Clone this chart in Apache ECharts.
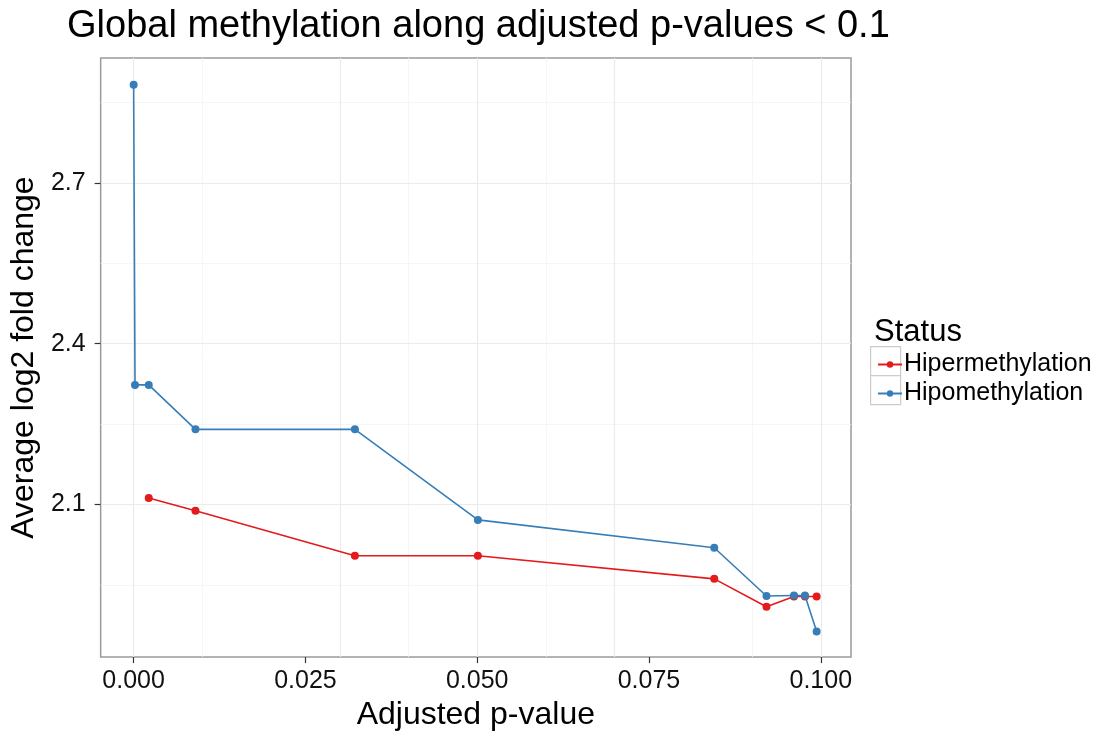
<!DOCTYPE html>
<html>
<head>
<meta charset="utf-8">
<script src="https://cdn.jsdelivr.net/npm/echarts@6/dist/echarts.min.js"></script>
<style>html,body{margin:0;padding:0;background:#fff}#c{width:1097px;height:736px}</style>
</head>
<body>
<div id="c"></div>
<script>
// Data
const hyperP  = [0.0022, 0.0090, 0.0322, 0.0501, 0.0845, 0.0921, 0.0961, 0.0977, 0.0994];
const hyperFC = [2.112, 2.088, 2.004, 2.004, 1.961, 1.909, 1.928, 1.928, 1.928];
const hypoP   = [0.0000, 0.0002, 0.0022, 0.0090, 0.0322, 0.0501, 0.0845, 0.0921, 0.0961, 0.0977, 0.0994];
const hypoFC  = [2.883, 2.323, 2.323, 2.240, 2.240, 2.071, 2.019, 1.929, 1.930, 1.930, 1.863];
const seriesNames = ['Hipermethylation', 'Hipomethylation'];
const xTicks = [0, 0.025, 0.05, 0.075, 0.1];
const xMinor = [0.0125, 0.0375, 0.0625, 0.0875];
const yTicks = [2.1, 2.4, 2.7];
const yMinor = [1.95, 2.25, 2.55, 2.85];

const FONT = '"Liberation Sans", Arial, Helvetica, sans-serif';
const chart = echarts.init(document.getElementById('c'), null, {renderer: 'canvas'});

const major = {color: '#ebebeb', width: 1.2, type: 'solid'};
const minor = {color: '#f4f4f4', width: 0.8, type: 'solid'};
const gridLines = [].concat(
  xMinor.map(v => ({xAxis: v, lineStyle: minor})),
  yMinor.map(v => ({yAxis: v, lineStyle: minor})),
  xTicks.map(v => ({xAxis: v, lineStyle: major})),
  yTicks.map(v => ({yAxis: v, lineStyle: major}))
);

chart.setOption({
  animation: false,
  backgroundColor: '#ffffff',
  textStyle: {fontFamily: FONT},
  title: [
    {text: 'Global methylation along adjusted p-values < 0.1', left: 62, top: 3,
     textStyle: {fontFamily: FONT, fontSize: 38, fontWeight: 'normal', color: '#000'}},
    {text: 'Status', left: 869, top: 312,
     textStyle: {fontFamily: FONT, fontSize: 31, fontWeight: 'normal', color: '#000'}}
  ],
  grid: {left: 100, right: 246, top: 58, bottom: 76, show: true,
         borderColor: '#9a9a9a', borderWidth: 1.5, backgroundColor: 'transparent'},
  legend: {
    data: seriesNames, orient: 'vertical', left: 872, top: 347, itemWidth: 24, itemHeight: 8,
    itemGap: 4, textStyle: {fontFamily: FONT, fontSize: 25, color: '#000', padding: [0,0,0,-3], lineHeight: 25}
  },
  graphic: [
    {type: 'rect', left: 870, top: 346, shape: {width: 30, height: 29}, z: -1,
     style: {fill: '#ffffff', stroke: '#cccccc', lineWidth: 1.2}},
    {type: 'rect', left: 870, top: 375, shape: {width: 30, height: 29}, z: -1,
     style: {fill: '#ffffff', stroke: '#cccccc', lineWidth: 1.2}}
  ],
  xAxis: {
    type: 'value', min: -0.0048, max: 0.1044,
    name: 'Adjusted p-value', nameLocation: 'middle', nameGap: 38,
    nameTextStyle: {fontFamily: FONT, fontSize: 32, color: '#000'},
    axisLine: {show: false, onZero: false},
    axisTick: {show: true, length: 6, customValues: xTicks, lineStyle: {color: '#333', width: 1.2}},
    axisLabel: {customValues: xTicks, margin: 12, fontSize: 25, color: '#111', fontFamily: FONT,
                formatter: v => v.toFixed(3)},
    splitLine: {show: false}
  },
  yAxis: {
    type: 'value', min: 1.815, max: 2.933,
    name: 'Average log2 fold change', nameLocation: 'middle', nameGap: 57,
    nameTextStyle: {fontFamily: FONT, fontSize: 32, color: '#000'},
    axisLine: {show: false, onZero: false},
    axisTick: {show: true, length: 6, customValues: yTicks, lineStyle: {color: '#333', width: 1.2}},
    axisLabel: {customValues: yTicks, margin: 15, fontSize: 25, color: '#111', fontFamily: FONT,
                formatter: v => v.toFixed(1)},
    splitLine: {show: false}
  },
  series: [
    {name: '__grid', type: 'line', data: [], z: 0, silent: true,
     markLine: {silent: true, z: 0, zlevel: 0, symbol: ['none', 'none'], label: {show: false}, animation: false,
                data: gridLines}},
    {name: seriesNames[0], type: 'line', z: 6,
     data: hyperP.map((p, i) => [p, hyperFC[i]]),
     symbol: 'circle', symbolSize: 8, color: '#E41A1C',
     lineStyle: {width: 1.6, color: '#E41A1C'}, itemStyle: {color: '#E41A1C'}},
    {name: seriesNames[1], type: 'line', z: 7,
     data: hypoP.map((p, i) => [p, hypoFC[i]]),
     symbol: 'circle', symbolSize: 8, color: '#377EB8',
     lineStyle: {width: 1.6, color: '#377EB8'}, itemStyle: {color: '#377EB8'}}
  ]
});
</script>
</body>
</html>
